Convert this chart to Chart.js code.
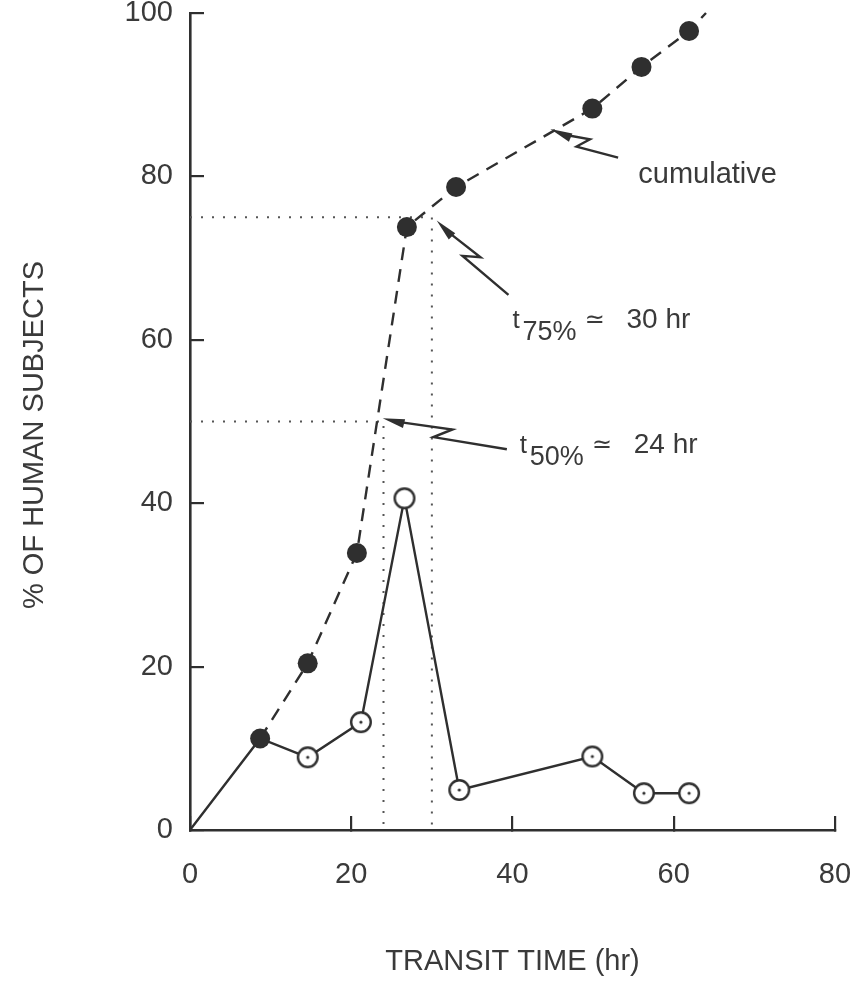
<!DOCTYPE html>
<html>
<head>
<meta charset="utf-8">
<title>Transit time</title>
<script src="https://cdn.jsdelivr.net/npm/chart.js@4.4.0/dist/chart.umd.min.js"></script>
<style>
  body { margin: 0; background: #fff; }
  canvas { display: block; }
</style>
</head>
<body>
<canvas id="transitChart" width="850" height="999"></canvas>
<script>
// cumulative % of subjects (filled dots, dashed line); last vertex only extends the line
const cumHours = [8.7, 14.6, 20.7, 26.9, 33, 49.9, 56, 61.9, 64];
const cumPercent = [11.2, 20.4, 33.9, 73.8, 78.7, 88.3, 93.4, 97.8, 100];
// % of subjects per interval (open dots, solid line), starts at origin
const freqHours = [0, 8.7, 14.6, 21.2, 26.6, 33.4, 49.9, 56.3, 61.9];
const freqPercent = [0, 11.2, 8.9, 13.2, 40.6, 4.9, 9.0, 4.5, 4.5];
const xTicks = [0, 20, 40, 60, 80];
const yTicks = [0, 20, 40, 60, 80, 100];
// read-offs
const t50 = 24, t75 = 30;

const ink = '#2f2f2f';
const textInk = '#3a3a3a';
const sans = '"Liberation Sans", Arial, sans-serif';

function ring(withDot) {
    const c = document.createElement('canvas');
    c.width = 26; c.height = 26;
    const g = c.getContext('2d');
    g.beginPath();
    g.arc(13, 13, 9.8, 0, Math.PI * 2);
    g.fillStyle = '#fff';
    g.fill();
    g.lineWidth = 2.4;
    g.strokeStyle = ink;
    g.stroke();
    if (withDot) {
        g.beginPath();
        g.arc(13, 13, 1.6, 0, Math.PI * 2);
        g.fillStyle = ink;
        g.fill();
    }
    return c;
}
const dotRing = ring(true);
const plainRing = ring(false);

const toPoints = (xs, ys) => xs.map((v, i) => ({ x: v, y: ys[i] }));

const annotations = {
    id: 'annotations',
    afterDatasetsDraw(chart) {
        const { ctx, scales: { x, y } } = chart;
        const px = v => x.getPixelForValue(v);
        const py = v => y.getPixelForValue(v);

        function bolt(from, to) {
            const tx = px(from[0]), ty = py(from[1]);
            const hx = px(to[0]), hy = py(to[1]);
            const dx = tx - hx, dy = ty - hy;
            const len = Math.hypot(dx, dy);
            const ux = dx / len, uy = dy / len;
            const nx = -uy, ny = ux;
            const at = (t, off) => [hx + ux * len * t + nx * off, hy + uy * len * t + ny * off];
            const p1 = at(0.42, 6), p2 = at(0.55, -6);
            ctx.beginPath();
            ctx.moveTo(tx, ty);
            ctx.lineTo(p1[0], p1[1]);
            ctx.lineTo(p2[0], p2[1]);
            ctx.lineTo(hx + ux * 14, hy + uy * 14);
            ctx.lineWidth = 2.4;
            ctx.strokeStyle = ink;
            ctx.stroke();
            const s = 22, w = 4.5;
            ctx.beginPath();
            ctx.moveTo(hx, hy);
            ctx.lineTo(hx + ux * s + nx * w, hy + uy * s + ny * w);
            ctx.lineTo(hx + ux * s - nx * w, hy + uy * s - ny * w);
            ctx.closePath();
            ctx.fillStyle = ink;
            ctx.fill();
        }

        function readOff(at, pct, hrs) {
            const ax = px(at[0]), ay = py(at[1]);
            ctx.textAlign = 'left';
            ctx.textBaseline = 'alphabetic';
            ctx.fillStyle = textInk;
            ctx.font = '26px ' + sans;
            ctx.fillText('t', ax, ay);
            ctx.font = '27px ' + sans;
            ctx.fillText(pct + '%', ax + 10, ay + 12);
            ctx.font = '24px "DejaVu Sans", sans-serif';
            ctx.fillText('\u2243', ax + 72, ay - 1);
            ctx.font = '28px ' + sans;
            ctx.fillText(hrs + ' hr', ax + 114, ay);
        }

        ctx.save();
        bolt([53.1, 82.3], [44.7, 85.8]);
        bolt([39.5, 65.5], [30.6, 74.6]);
        bolt([39.3, 46.6], [23.9, 50.4]);

        ctx.fillStyle = textInk;
        ctx.font = '29px ' + sans;
        ctx.textAlign = 'left';
        ctx.textBaseline = 'alphabetic';
        ctx.fillText('cumulative', px(55.6), py(79.2));

        readOff([40, 61.4], 75, t75);
        readOff([40.9, 46.1], 50, t50);

        // y axis title
        ctx.translate(35, 435);
        ctx.rotate(-Math.PI / 2);
        ctx.textAlign = 'center';
        ctx.textBaseline = 'middle';
        ctx.font = '29px ' + sans;
        ctx.fillText('% OF HUMAN SUBJECTS', 0, 0);
        ctx.restore();
    }
};

new Chart(document.getElementById('transitChart'), {
    type: 'line',
    data: {
        datasets: [{
            label: 'cumulative',
            data: toPoints(cumHours, cumPercent),
            borderColor: ink,
            borderWidth: 2.4,
            borderDash: [13, 9],
            backgroundColor: ink,
            pointBackgroundColor: ink,
            pointBorderWidth: 0,
            pointRadius: cumHours.map((h, i) => i === cumHours.length - 1 ? 0 : 10),
            tension: 0,
            clip: false
        }, {
            label: 'per interval',
            data: toPoints(freqHours, freqPercent),
            borderColor: ink,
            borderWidth: 2.4,
            pointStyle: freqHours.map((h, i) => i === 4 ? plainRing : dotRing),
            pointRadius: freqHours.map((h, i) => i < 2 ? 0 : 10),
            tension: 0,
            clip: false
        }, {
            label: 't75 guide',
            data: [{ x: 0, y: 75 }, { x: t75, y: 75 }, { x: t75, y: 0 }],
            borderColor: '#555',
            borderWidth: 2,
            borderDash: [2, 9],
            pointRadius: 0,
            tension: 0
        }, {
            label: 't50 guide',
            data: [{ x: 0, y: 50 }, { x: t50, y: 50 }, { x: t50, y: 0 }],
            borderColor: '#555',
            borderWidth: 2,
            borderDash: [2, 9],
            pointRadius: 0,
            tension: 0
        }]
    },
    options: {
        responsive: false,
        animation: false,
        events: [],
        layout: { padding: 0 },
        plugins: {
            legend: { display: false },
            tooltip: { enabled: false }
        },
        scales: {
            x: {
                type: 'linear',
                min: 0,
                max: 80,
                afterBuildTicks: s => { s.ticks = xTicks.map(v => ({ value: v })); },
                afterFit: s => {
                    s.height = 169;
                    s.paddingLeft = 0;
                    s.paddingRight = 15;
                },
                ticks: {
                    color: textInk,
                    font: { family: sans, size: 29, lineHeight: 1 },
                    padding: 44,
                    maxRotation: 0
                },
                grid: { drawOnChartArea: false, tickLength: -14, color: ink, lineWidth: 2.2 },
                border: { color: ink, width: 2.6 },
                title: {
                    display: true,
                    text: 'TRANSIT TIME (hr)',
                    color: textInk,
                    font: { family: sans, size: 29 },
                    padding: { top: 0, bottom: 20 }
                }
            },
            y: {
                min: 0,
                max: 100,
                afterBuildTicks: s => { s.ticks = yTicks.map(v => ({ value: v })); },
                afterFit: s => {
                    s.width = 190;
                    s.paddingTop = 13;
                    s.paddingBottom = 0;
                },
                ticks: {
                    color: textInk,
                    font: { family: sans, size: 29, lineHeight: 1 },
                    padding: 31
                },
                grid: { drawOnChartArea: false, tickLength: -14, color: ink, lineWidth: 2.2 },
                border: { color: ink, width: 2.6 }
            }
        }
    },
    plugins: [annotations]
});
</script>
</body>
</html>
